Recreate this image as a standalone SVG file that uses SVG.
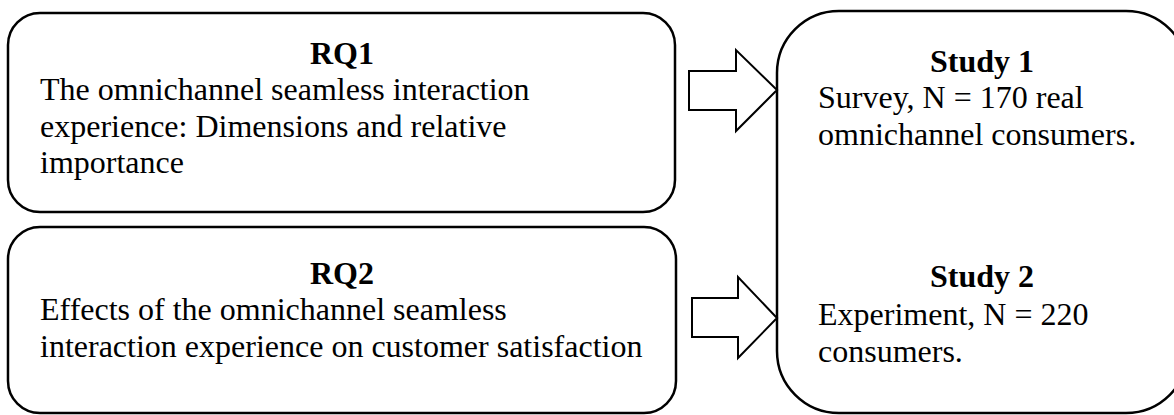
<svg xmlns="http://www.w3.org/2000/svg" width="1174" height="415" viewBox="0 0 1174 415">
<style>
.box{fill:#fff;stroke:#000;stroke-width:2.5}
.arr{fill:#fff;stroke:#000;stroke-width:2}
text{font-family:"Liberation Serif","Times New Roman",serif;font-size:32px;fill:#000}
.h{font-weight:bold;text-anchor:middle}
</style>
<rect width="1174" height="415" fill="#fff"/>
<g id="rq1">
<rect class="box" x="8" y="13" width="667" height="199" rx="32" ry="32"/>
<text class="h" x="342" y="64">RQ1</text>
<text x="40" y="100">The omnichannel seamless interaction</text>
<text x="40" y="137">experience: Dimensions and relative</text>
<text x="40" y="173">importance</text>
</g>
<g id="rq2">
<rect class="box" x="8" y="227" width="668" height="186" rx="32" ry="32"/>
<text class="h" x="342" y="284">RQ2</text>
<text x="40" y="320">Effects of the omnichannel seamless</text>
<text x="40" y="357">interaction experience on customer satisfaction</text>
</g>
<g id="studies">
<rect class="box" x="777" y="11" width="411" height="402" rx="62" ry="62"/>
<text class="h" x="982" y="72">Study 1</text>
<text x="818" y="108">Survey, N = 170 real</text>
<text x="818" y="145">omnichannel consumers.</text>
<text class="h" x="982" y="287">Study 2</text>
<text x="818" y="325">Experiment, N = 220</text>
<text x="818" y="362">consumers.</text>
</g>
<g id="connectors">
<polygon class="arr" points="689,71 736,71 736,50 777,90 736,131 736,110 689,110"/>
<polygon class="arr" points="692,298 738,298 738,277 777,318 738,358 738,337 692,337"/>
</g>
</svg>
